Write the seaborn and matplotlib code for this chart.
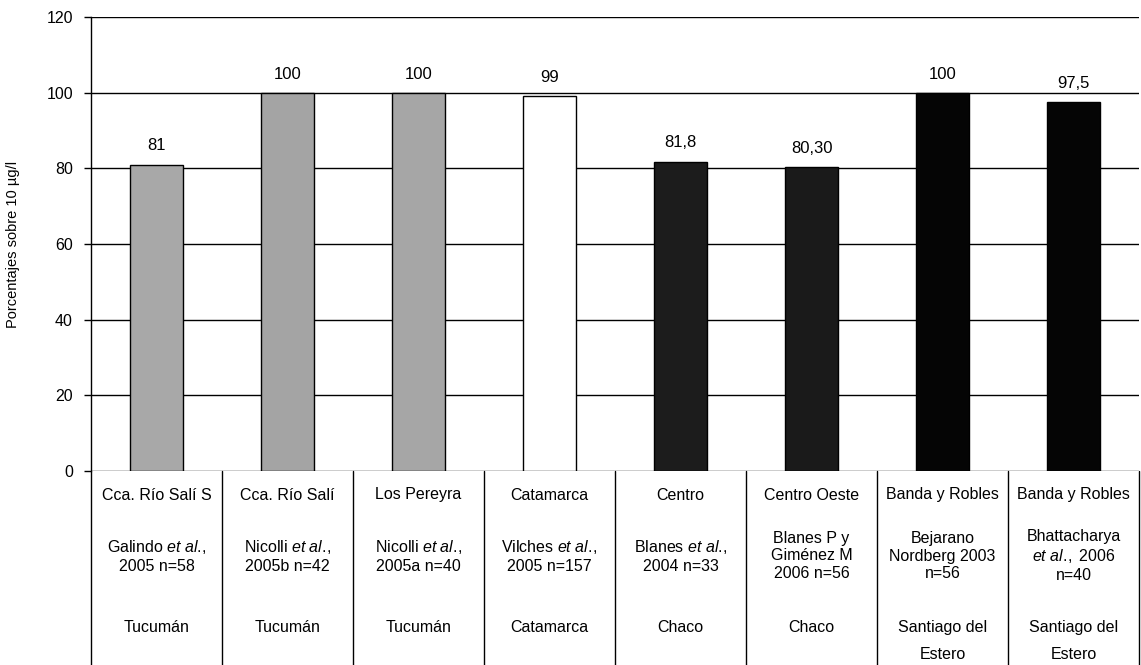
import matplotlib
matplotlib.use("Agg")
import matplotlib.pyplot as plt
import seaborn as sns
import pandas as pd

# ---- data ----
places = ["Cca. Río Salí S", "Cca. Río Salí", "Los Pereyra", "Catamarca",
          "Centro", "Centro Oeste", "Banda y Robles", "Banda y Robles"]
references = [r"$\mathrm{Galindo\ }\mathit{et\ al.}\!\mathrm{,}$" + "\n2005 n=58",
              r"$\mathrm{Nicolli\ }\mathit{et\ al.}\!\mathrm{,}$" + "\n2005b n=42",
              r"$\mathrm{Nicolli\ }\mathit{et\ al.}\!\mathrm{,}$" + "\n2005a n=40",
              r"$\mathrm{Vilches\ }\mathit{et\ al.}\!\mathrm{,}$" + "\n2005 n=157",
              r"$\mathrm{Blanes\ }\mathit{et\ al.}\!\mathrm{,}$" + "\n2004 n=33",
              "Blanes P y\nGiménez M\n2006 n=56",
              "Bejarano\nNordberg 2003\nn=56",
              "Bhattacharya\n" + r"$\mathit{et\ al.}\!\mathrm{,\ 2006}$" + "\nn=40"]
provinces = ["Tucumán", "Tucumán", "Tucumán", "Catamarca",
             "Chaco", "Chaco", "Santiago del\nEstero", "Santiago del\nEstero"]
values = [81, 100, 100, 99, 81.8, 80.3, 100, 97.5]
value_labels = ["81", "100", "100", "99", "81,8", "80,30", "100", "97,5"]
bar_colors = ["#a8a8a8", "#a4a4a4", "#a6a6a6", "#ffffff",
              "#1c1c1c", "#1a1a1a", "#050505", "#050505"]
yticks = [0, 20, 40, 60, 80, 100, 120]
ylabel = "Porcentajes sobre 10 µg/l"

sns.set_style("white")
plt.rcParams["font.family"] = ["Liberation Sans", "DejaVu Sans"]
plt.rcParams["mathtext.fontset"] = "custom"
plt.rcParams["mathtext.rm"] = "Liberation Sans"
plt.rcParams["mathtext.it"] = "Liberation Sans:italic"
plt.rcParams["text.color"] = "black"
plt.rcParams["axes.labelcolor"] = "black"
plt.rcParams["ytick.color"] = "black"
plt.rcParams["xtick.color"] = "black"

keys = [f"{i}" for i in range(len(places))]
df = pd.DataFrame({"key": keys, "value": values})

W, H = 1141, 665
fig = plt.figure(figsize=(W / 100, H / 100), dpi=100)
x0, x1, y0, y1 = 91, 1139, 471, 17
ax = fig.add_axes([x0 / W, 1 - y0 / H, (x1 - x0) / W, (y0 - y1) / H])

sns.barplot(data=df, x="key", y="value", hue="key", palette=bar_colors,
            legend=False, width=0.405, edgecolor="black", linewidth=1.0,
            saturation=1, ax=ax, zorder=3)

ax.set_ylim(0, 120)
ax.set_xlim(-0.5, len(places) - 0.5)
ax.set_yticks(yticks)
ax.set_yticklabels([str(t) for t in yticks], fontsize=11.5)
ax.tick_params(axis="y", length=5, width=1, color="black", pad=8, left=True)
ax.tick_params(axis="x", bottom=False, labelbottom=False)
ax.set_xlabel("")
ax.set_ylabel(ylabel, fontsize=10.5)
ax.yaxis.set_label_coords(-0.068, 0.5)
ax.grid(axis="y", color="black", linewidth=1.0, zorder=0)
ax.set_axisbelow(True)
for s in ["top", "right", "bottom"]:
    ax.spines[s].set_visible(False)
ax.spines["left"].set_color("black")
ax.spines["left"].set_linewidth(1.0)

# value labels
for i, (v, lab) in enumerate(zip(values, value_labels)):
    ax.annotate(lab, (i, v), xytext=(0, 8), textcoords="offset points",
                ha="center", va="bottom", fontsize=12)

# table below the axis
trans = ax.get_xaxis_transform()
def yfrac(py):
    return (y0 - py) / (y0 - y1)
for i in range(len(places) + 1):
    ax.plot([i - 0.5, i - 0.5], [0, yfrac(H + 5)], transform=trans,
            color="black", lw=1.0, clip_on=False)
for i in range(len(places)):
    ax.text(i, yfrac(495), places[i], transform=trans, ha="center",
            va="center", fontsize=11.5)
    ax.text(i, yfrac(556), references[i], transform=trans, ha="center",
            va="center", fontsize=11.5, linespacing=1.2)
    ax.text(i, yfrac(620), provinces[i], transform=trans, ha="center",
            va="top", fontsize=11.5, linespacing=2.0)

fig.savefig("out.png", dpi=100)
